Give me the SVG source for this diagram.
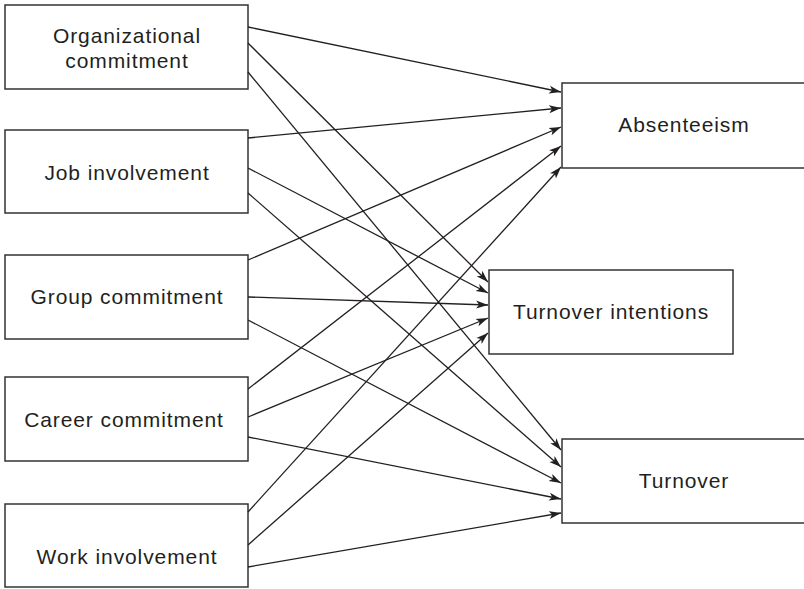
<svg xmlns="http://www.w3.org/2000/svg" width="804" height="589" viewBox="0 0 804 589">
<style>
.box{fill:#fff;stroke:#333;stroke-width:1.5}
.lbl{font-family:"Liberation Sans",Arial,sans-serif;font-size:21px;letter-spacing:0.9px;fill:#231f20;text-anchor:middle}
.c{stroke:#231f20;stroke-width:1.3;fill:none;marker-end:url(#ah)}
</style>
<defs>
<marker id="ah" markerUnits="userSpaceOnUse" markerWidth="13" markerHeight="9" refX="12" refY="4.5" orient="auto">
<path d="M0,0.5 L12,4.5 L0,8.5 L3,4.5 Z" fill="#231f20"/>
</marker>
</defs>
<rect width="804" height="589" fill="#fff"/>
<g id="n-org"><rect class="box" x="5" y="5" width="243" height="84"/><text class="lbl" x="127" y="43">Organizational</text><text class="lbl" x="127" y="68">commitment</text></g>
<g id="n-job"><rect class="box" x="5" y="130" width="243" height="83"/><text class="lbl" x="127" y="180">Job involvement</text></g>
<g id="n-group"><rect class="box" x="5" y="255" width="243" height="84"/><text class="lbl" x="127" y="304">Group commitment</text></g>
<g id="n-career"><rect class="box" x="5" y="377" width="243" height="84"/><text class="lbl" x="124" y="427">Career commitment</text></g>
<g id="n-work"><rect class="box" x="5" y="504" width="243" height="83"/><text class="lbl" x="127" y="564">Work involvement</text></g>
<g id="n-abs"><rect class="box" x="562" y="83" width="250" height="85"/><text class="lbl" x="684" y="132">Absenteeism</text></g>
<g id="n-ti"><rect class="box" x="489" y="270" width="244" height="84"/><text class="lbl" x="611" y="319">Turnover intentions</text></g>
<g id="n-to"><rect class="box" x="562" y="439" width="250" height="84"/><text class="lbl" x="684" y="488">Turnover</text></g>
<g id="connectors">
<line class="c" x1="248" y1="27" x2="561" y2="92"/>
<line class="c" x1="248" y1="43" x2="488" y2="282"/>
<line class="c" x1="248" y1="72" x2="561" y2="450"/>
<line class="c" x1="248" y1="138" x2="561" y2="108"/>
<line class="c" x1="248" y1="168" x2="488" y2="293"/>
<line class="c" x1="248" y1="193" x2="561" y2="467"/>
<line class="c" x1="248" y1="260" x2="561" y2="127"/>
<line class="c" x1="248" y1="297" x2="488" y2="305"/>
<line class="c" x1="248" y1="320" x2="561" y2="483"/>
<line class="c" x1="248" y1="389" x2="561" y2="146"/>
<line class="c" x1="248" y1="417" x2="488" y2="318"/>
<line class="c" x1="248" y1="437" x2="561" y2="499"/>
<line class="c" x1="248" y1="512" x2="561" y2="167"/>
<line class="c" x1="248" y1="545" x2="488" y2="333"/>
<line class="c" x1="248" y1="567" x2="561" y2="513"/>
</g>
</svg>
